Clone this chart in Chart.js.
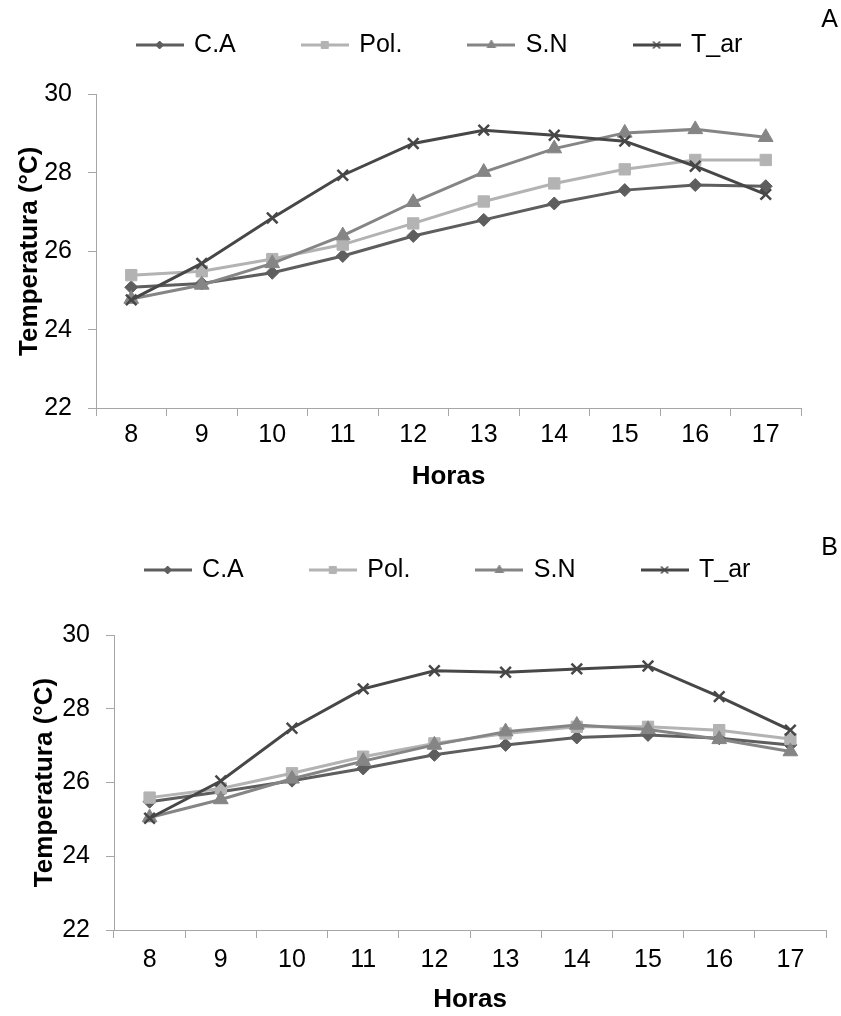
<!DOCTYPE html>
<html>
<head>
<meta charset="utf-8">
<script src="https://cdn.jsdelivr.net/npm/chart.js@4.4.0/dist/chart.umd.min.js"></script>
<style>
  html, body { margin: 0; padding: 0; background: #fff; overflow: hidden; }
  canvas { position: absolute; left: 0; }
  #chartA { top: 0; }
  #chartB { top: 510px; }
</style>
</head>
<body>
<canvas id="chartA" width="841" height="505"></canvas>
<canvas id="chartB" width="841" height="506"></canvas>
<script>
// --- Data ---
const hours = ['8', '9', '10', '11', '12', '13', '14', '15', '16', '17'];
const yTicks = [22, 24, 26, 28, 30];
const seriesNames = ['C.A', 'Pol.', 'S.N', 'T_ar'];

// Panel A
const caA  = [25.08, 25.18, 25.45, 25.88, 26.39, 26.80, 27.22, 27.56, 27.69, 27.66];
const polA = [25.39, 25.49, 25.80, 26.17, 26.71, 27.27, 27.73, 28.09, 28.33, 28.33];
const snA  = [24.78, 25.14, 25.69, 26.40, 27.25, 28.02, 28.62, 29.02, 29.11, 28.91];
const tarA = [24.76, 25.69, 26.85, 27.94, 28.75, 29.09, 28.96, 28.81, 28.17, 27.45];

// Panel B
const caB  = [25.48, 25.75, 26.05, 26.38, 26.75, 27.02, 27.22, 27.29, 27.20, 27.02];
const polB = [25.59, 25.84, 26.25, 26.70, 27.06, 27.33, 27.51, 27.51, 27.42, 27.18];
const snB  = [25.05, 25.54, 26.10, 26.58, 27.02, 27.38, 27.56, 27.44, 27.17, 26.84];
const tarB = [25.03, 26.04, 27.47, 28.54, 29.03, 28.99, 29.08, 29.16, 28.33, 27.42];

// --- Styles ---
const FONT = "'Liberation Sans', Arial, sans-serif";
const AXIS_COLOR = '#a6a6a6';
const styles = [
  { color: '#5e5e5e', point: 'rectRot',  radius: 6.5, bw: 1,   legendRadius: 4 },
  { color: '#b3b3b3', point: 'rect',     radius: 8,   bw: 1,   legendRadius: 5 },
  { color: '#858585', point: 'triangle', radius: 8.5, bw: 1,   legendRadius: 5 },
  { color: '#474747', point: 'crossRot', radius: 7.5, bw: 2.5, legendRadius: 5 }
];

function legendIcon(st) {
  const c = document.createElement('canvas');
  c.width = 48; c.height = 16;
  const ctx = c.getContext('2d');
  ctx.strokeStyle = st.color;
  ctx.fillStyle = st.color;
  ctx.lineWidth = 3;
  ctx.beginPath(); ctx.moveTo(0, 8); ctx.lineTo(48, 8); ctx.stroke();
  ctx.lineWidth = st.point === 'crossRot' ? 1.5 : 1;
  Chart.helpers.drawPoint(ctx, { pointStyle: st.point, radius: st.legendRadius, borderWidth: ctx.lineWidth, rotation: 0 }, 24, 8);
  return c;
}

// puts legend and panel tag where they sit in the figure
const placeBoxes = {
  id: 'placeBoxes',
  afterLayout(chart, args, opts) {
    const lg = chart.legend;
    const dx = opts.legendX - (lg.left + lg.right) / 2;
    lg.left += dx; lg.right += dx;
    const pad = lg.options.labels.padding;
    const fs = lg.options.labels.font.size;
    lg.top = opts.legendY - pad - fs / 2;
    lg.bottom = opts.legendY + fs;
    const t = chart.titleBlock;
    const h = t.bottom - t.top;
    t.top = opts.tagY - h / 2;
    t.bottom = t.top + h;
    t.right = opts.tagRight;
  }
};

function makeChart(id, tag, series, g) {
  const datasets = series.map((vals, i) => ({
    label: seriesNames[i],
    data: vals,
    borderColor: styles[i].color,
    backgroundColor: styles[i].color,
    borderWidth: 3,
    tension: 0,
    pointStyle: styles[i].point,
    pointRadius: styles[i].radius,
    pointBorderWidth: styles[i].bw,
    pointBackgroundColor: styles[i].color,
    pointBorderColor: styles[i].color,
    order: series.length - i
  }));

  return new Chart(document.getElementById(id), {
    type: 'line',
    data: { labels: hours, datasets },
    plugins: [placeBoxes],
    options: {
      responsive: false,
      animation: false,
      layout: { padding: { top: g.padTop, right: g.padRight, left: 0, bottom: 0 } },
      plugins: {
        tooltip: { enabled: false },
        title: {
          display: true, text: tag, align: 'end', color: '#000',
          padding: 0, font: { family: FONT, size: 25, weight: 'normal' }
        },
        legend: {
          display: true, position: 'top', maxHeight: 40,
          labels: {
            font: { family: FONT, size: 25 }, color: '#000',
            padding: 67, usePointStyle: true, pointStyleWidth: 44,
            generateLabels: chart => chart.data.datasets.map((ds, i) => ({
              text: ds.label,
              pointStyle: legendIcon(styles[i]),
              fillStyle: ds.borderColor,
              strokeStyle: ds.borderColor,
              lineWidth: 0,
              hidden: false,
              datasetIndex: i,
              fontColor: '#000'
            }))
          }
        },
        placeBoxes: { legendX: g.legendX, legendY: g.legendY, tagY: g.tagY, tagRight: 838 }
      },
      scales: {
        x: {
          type: 'category',
          offset: true,
          grid: { display: true, offset: true, drawOnChartArea: false, drawTicks: true, tickLength: 8, color: AXIS_COLOR },
          border: { display: true, color: AXIS_COLOR, width: 1 },
          ticks: { color: '#000', padding: g.tickPad, font: { family: FONT, size: 25 }, maxRotation: 0 },
          title: { display: true, text: 'Horas', color: '#000', padding: { top: 0, bottom: g.xTitlePad },
                   font: { family: FONT, size: 26, weight: 'bold' } },
          afterFit: s => { s.height = g.xHeight; }
        },
        y: {
          min: yTicks[0], max: yTicks[yTicks.length - 1],
          afterBuildTicks: s => { s.ticks = yTicks.map(v => ({ value: v })); },
          grid: { display: true, drawOnChartArea: false, drawTicks: true, tickLength: 8, color: AXIS_COLOR },
          border: { display: true, color: AXIS_COLOR, width: 1 },
          ticks: { color: '#000', padding: 16, font: { family: FONT, size: 25 } },
          title: { display: true, text: 'Temperatura (°C)', color: '#000', padding: { top: g.yTitlePad, bottom: 0 },
                   font: { family: FONT, size: 26, weight: 'bold' } },
          afterFit: s => { s.width = g.yWidth; }
        }
      }
    }
  });
}

makeChart('chartA', 'A', [caA, polA, snA, tarA], {
  padTop: 24.5, padRight: 40, yWidth: 96, xHeight: 97, tickPad: 4,
  xTitlePad: 13, yTitlePad: 14, legendX: 440, legendY: 45, tagY: 20
});

makeChart('chartB', 'B', [caB, polB, snB, tarB], {
  padTop: 55, padRight: 15, yWidth: 114, xHeight: 86, tickPad: 7,
  xTitlePad: 1, yTitlePad: 29, legendX: 448, legendY: 60, tagY: 38
});
</script>
</body>
</html>
